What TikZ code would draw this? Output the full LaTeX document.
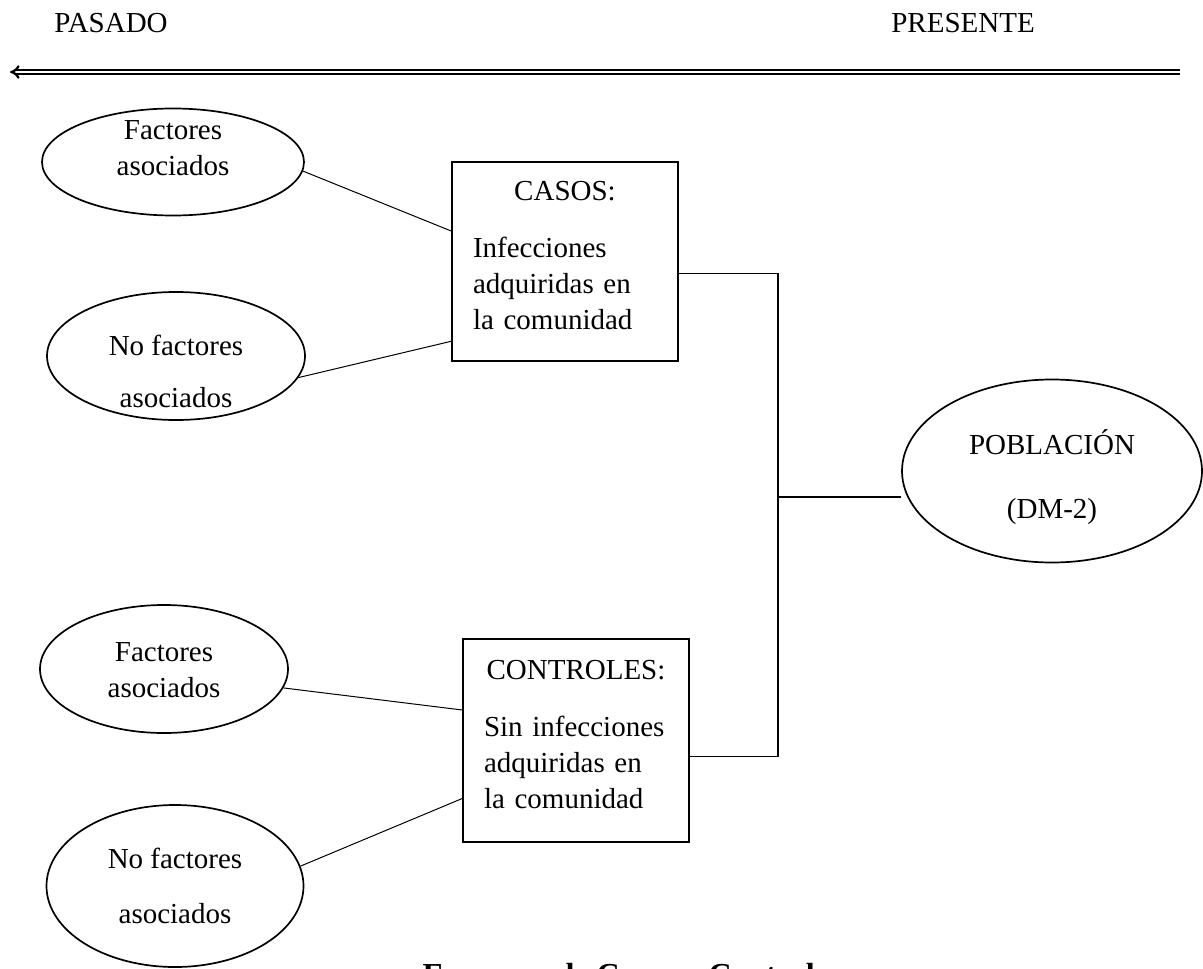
\documentclass[tikz,border=0pt]{standalone}
\usepackage{fontspec}
\setmainfont{Liberation Serif}
\usetikzlibrary{shapes.geometric,arrows.meta}
\tikzset{
    oval/.style={draw,ellipse,line width=.85pt,inner sep=0pt},
    ovaltext/.style={align=center,inner sep=0pt},
    groupbox/.style={draw,line width=1pt,minimum width=113pt,text width=92pt,
        inner xsep=10.5pt,inner ysep=0pt},
    link/.style={line width=.5pt},
    bracket/.style={line width=.65pt},
    timeline/.style={double,double distance=1pt,line width=1.15pt,{Implies}-}
}

\begin{document}
\begin{tikzpicture}[x=.5pt,y=-.5pt,font=\fontsize{14.5}{18}\selectfont]
        \useasboundingbox (0,0) rectangle (1203,968);
        \node[anchor=base] (pasado) at (111,33) {PASADO};
        \node[anchor=base] (presente) at (963,33) {PRESENTE};
        \coordinate (past) at (10,72);
        \coordinate (now) at (1180,72);
        \draw[timeline] (past) -- (now);

        \node[oval,minimum width=131pt,minimum height=53.5pt] (fa1) at (173,162) {};
        \node[ovaltext,yshift=6.75pt] (fa1txt) at (fa1) {Factores\\asociados};
        \node[oval,minimum width=129pt,minimum height=64pt] (nf1) at (176,356) {};
        \node[ovaltext,yshift=-7.75pt] (nf1txt) at (nf1) {No factores\\[8pt]asociados};
        \node[oval,minimum width=124pt,minimum height=64pt] (fa2) at (164,669) {};
        \node[ovaltext,yshift=-.75pt] (fa2txt) at (fa2) {Factores\\asociados};
        \node[oval,minimum width=128.5pt,minimum height=81pt] (nf2) at (175,886) {};
        \node[ovaltext] (nf2txt) at (nf2) {No factores\\[9.5pt]asociados};
        \node[oval,minimum width=150pt,minimum height=91.5pt] (pob) at (1052,471) {};
        \node[ovaltext,yshift=-3pt] (pobtxt) at (pob) {POBLACIÓN\\[14pt](DM-2)};

        \node[groupbox,minimum height=99.5pt] (casos) at (565,261.5)
        {\centering CASOS:\par\vspace{10.5pt}\raggedright
        Infecciones\\adquiridas en\\la comunidad\rule[-6pt]{0pt}{6pt}};
        \node[groupbox,minimum height=101.5pt] (controles) at (576,740.5)
        {\centering CONTROLES:\par\vspace{10.5pt}\raggedright
        Sin infecciones\\adquiridas en\\la comunidad\rule[-6pt]{0pt}{6pt}};

        \draw[link] (fa1.-4) -- (casos.165);
        \draw[link] (nf1.-10) -- (casos.215);
        \draw[link] (fa2.-9) -- (controles.165);
        \draw[link] (nf2.9) -- (controles.207);

        \coordinate (spine) at (778,497);
        \draw[bracket] (casos.-6) -| (spine) |- (controles.-8);
        \draw[bracket] (spine) -- (spine -| pob.west);

        \node[anchor=base,font=\bfseries\fontsize{16}{19}\selectfont] (caption)
        at (632,985) {Esquema de Casos y Controles};
\end{tikzpicture}
\end{document}
